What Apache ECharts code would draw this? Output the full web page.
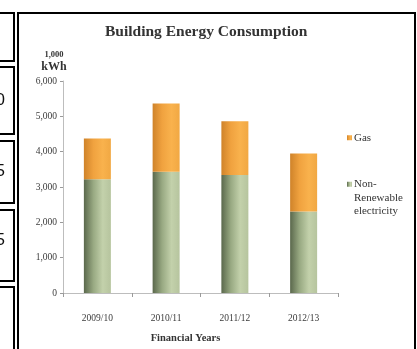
<!DOCTYPE html>
<html>
<head>
<meta charset="utf-8">
<script src="https://cdn.jsdelivr.net/npm/echarts@6/dist/echarts.min.js"></script>
<style>
html,body{margin:0;padding:0;background:#fff;}
#c{width:417px;height:349px;}
</style>
</head>
<body>
<div id="c"></div>
<script>
var categories = ['2009/10', '2010/11', '2011/12', '2012/13'];
var electricity = [3220, 3430, 3340, 2310];
var gas = [1150, 1930, 1520, 1640];
var yTicks = [0, 1000, 2000, 3000, 4000, 5000, 6000];
var cellDigits = ['0', '5', '5'];

var serif = '"Liberation Serif", "DejaVu Serif", serif';
var chart = echarts.init(document.getElementById('c'), null, {renderer: 'canvas'});

var greenGrad = new echarts.graphic.LinearGradient(0, 0, 1, 0, [
  {offset: 0, color: '#5a684c'},
  {offset: 0.35, color: '#98a982'},
  {offset: 0.7, color: '#c3d1ab'},
  {offset: 1, color: '#b6c49e'}
]);
var orangeGrad = new echarts.graphic.LinearGradient(0, 0, 1, 0, [
  {offset: 0, color: '#cf832a'},
  {offset: 0.35, color: '#f0a23f'},
  {offset: 0.7, color: '#f9b24d'},
  {offset: 1, color: '#f1a843'}
]);

var cells = [[12, 62], [66, 135], [140, 204], [209, 282], [286, 360]];
var cellDigitY = [100, 171, 240];
var graphics = [];
cells.forEach(function (c) {
  graphics.push({type: 'rect', shape: {x: -5, y: c[0] + 1, width: 19, height: c[1] - c[0] - 2},
    style: {fill: 'none', stroke: '#000', lineWidth: 2}, silent: true});
});
cellDigits.forEach(function (d, i) {
  graphics.push({type: 'text', x: 5, y: cellDigitY[i],
    style: {text: d, fill: '#111', font: '17px "Liberation Sans", Arial, sans-serif', align: 'right', verticalAlign: 'middle'}, silent: true});
});
graphics.push({type: 'rect', shape: {x: 18, y: 13, width: 397, height: 360},
  style: {fill: 'none', stroke: '#000', lineWidth: 2}, silent: true});

chart.setOption({
  backgroundColor: '#fff',
  animation: false,
  title: {
    text: 'Building Energy Consumption',
    left: 105, top: 24, padding: 0,
    textStyle: {fontFamily: serif, fontWeight: 'bold', fontSize: 15.5, color: '#333'}
  },
  legend: {
    orient: 'vertical',
    left: 342, top: 126,
    itemWidth: 5, itemHeight: 5, itemGap: 6,
    icon: 'rect',
    data: ['Gas', 'Non-Renewable electricity'],
    formatter: function (n) {
      return n === 'Gas' ? 'Gas' : '\n\nNon-\nRenewable\nelectricity';
    },
    textStyle: {fontFamily: serif, fontSize: 11, color: '#333', lineHeight: 13.5, padding: [0, 0, 0, -3]}
  },
  grid: {left: 63, right: 79, top: 81, bottom: 51, containLabel: false},
  xAxis: {
    type: 'category',
    data: categories,
    name: 'Financial Years',
    nameLocation: 'middle',
    nameGap: 40,
    nameTextStyle: {fontFamily: serif, fontWeight: 'bold', fontSize: 10.5, color: '#333', padding: [0, 30, 0, 0]},
    axisLine: {lineStyle: {color: '#bdbdbd', width: 1}},
    axisTick: {show: true, length: 4, lineStyle: {color: '#9a9a9a'}},
    axisLabel: {fontFamily: serif, fontSize: 9.5, color: '#3a3a3a', margin: 20}
  },
  yAxis: {
    type: 'value',
    min: 0, max: 6000, interval: 1000,
    name: '{a|1,000}\n{b|kWh}',
    nameLocation: 'end',
    nameGap: 8,
    nameTextStyle: {
      align: 'center', padding: [0, 18, 0, 0],
      rich: {
        a: {fontFamily: serif, fontSize: 8.5, color: '#333', fontWeight: 'bold', lineHeight: 11, align: 'center'},
        b: {fontFamily: serif, fontSize: 12, color: '#333', fontWeight: 'bold', lineHeight: 13, align: 'center'}
      }
    },
    splitLine: {show: false},
    axisLine: {show: true, lineStyle: {color: '#bdbdbd', width: 1}},
    axisTick: {show: true, length: 3, lineStyle: {color: '#9a9a9a'}},
    axisLabel: {
      fontFamily: serif, fontSize: 9.5, color: '#3a3a3a', margin: 6,
      formatter: function (v) { return yTicks.indexOf(v) >= 0 ? v.toLocaleString('en-US') : ''; }
    }
  },
  series: [
    {name: 'Non-Renewable electricity', type: 'bar', stack: 'total', data: electricity,
      barWidth: 27, itemStyle: {color: greenGrad}},
    {name: 'Gas', type: 'bar', stack: 'total', data: gas,
      barWidth: 27, itemStyle: {color: orangeGrad}}
  ],
  graphic: graphics
});
</script>
</body>
</html>
